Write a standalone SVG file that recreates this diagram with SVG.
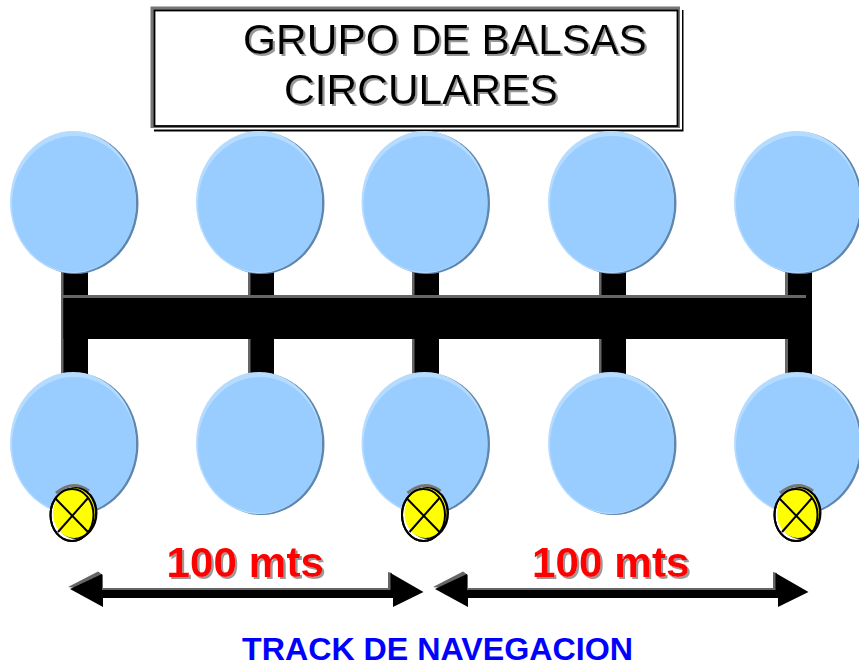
<svg xmlns="http://www.w3.org/2000/svg" width="859" height="666" viewBox="0 0 859 666">
<style>
text{font-family:"Liberation Sans",Arial,sans-serif}
.title{font-size:42.5px;fill:#000;filter:url(#ts)}
.dim{font-size:42.3px;font-weight:bold;fill:#ff0000;filter:url(#ts)}
.track{font-size:32.2px;font-weight:bold;fill:#0000ff}
.bar{fill:#000}
.bar-s{fill:#666}
.xl{fill:none;stroke:#000;stroke-width:2}
</style>
<defs>
<filter id="ts" x="-5%" y="-15%" width="110%" height="130%">
<feDropShadow dx="2" dy="2" stdDeviation="0.6" flood-color="#999"/>
</filter>
<g id="raft">
<ellipse cx="65.500" cy="72" rx="63" ry="71" fill="#5f86ad"/>
<ellipse cx="63" cy="71" rx="63" ry="71" fill="#b5dcff"/>
<ellipse cx="64" cy="73" rx="62" ry="68" fill="#99ccff"/>
</g>
<g id="buoy">
<ellipse cx="-1" cy="0" rx="21.500" ry="26" fill="#fff" stroke="#000" stroke-width="2"/>
<path d="M-17 -22Q0 -36 16 -24" fill="none" stroke="#777" stroke-width="3"/>
<ellipse cx="3" cy="-2" rx="21.500" ry="26" fill="#000"/>
<ellipse cx="1" cy="-2" rx="21" ry="25" fill="#ffff00"/>
<ellipse cx="-1" cy="0" rx="21.500" ry="26" fill="none" stroke="#000" stroke-width="2"/>
<path d="M-18 -17L15 17M15 -17L-15 17" class="xl"/>
</g>
</defs>
<g id="connectors">
<g id="frame">
<rect class="bar-s" x="61" y="270" width="3" height="105"/>
<rect class="bar-s" x="248" y="270" width="3" height="105"/>
<rect class="bar-s" x="412" y="270" width="3" height="105"/>
<rect class="bar-s" x="599" y="270" width="3" height="105"/>
<rect class="bar-s" x="785" y="270" width="3" height="105"/>
<rect class="bar" x="63.500" y="270" width="24.500" height="105"/>
<rect class="bar" x="250.500" y="270" width="23.500" height="105"/>
<rect class="bar" x="414.500" y="270" width="24.500" height="105"/>
<rect class="bar" x="601.500" y="270" width="24.500" height="105"/>
<rect class="bar" x="788" y="270" width="24" height="105"/>
<rect class="bar" x="63.500" y="297" width="748" height="42"/>
<rect class="bar-s" x="63" y="295" width="743" height="3"/>
</g>
<g id="arrow-left">
<path d="M68 587L98 571.500L103 575V588H388V572L392 573V591H100Z" fill="#666"/>
<path d="M70 589L102 574V590H390.500V573L423.500 592L393 607V598H103V607Z" class="bar"/>
</g>
<g id="arrow-right">
<path d="M433 587L463 571.500L468 575V588H773V572L777 573V591H465Z" fill="#666"/>
<path d="M435 589L467 574V590H775.500V573L808.500 592L778 607V598H468V607Z" class="bar"/>
</g>
</g>
<g id="title">
<rect x="154" y="10" width="529.500" height="121.500" fill="#000"/>
<rect x="154" y="10" width="528" height="119.500" fill="#fff"/>
<rect x="150.500" y="6.500" width="529.500" height="121.500" fill="#777"/>
<rect x="154.500" y="10.500" width="523" height="115.500" fill="#fff" stroke="#000" stroke-width="1.800"/>
<text class="title" x="243" y="54">GRUPO DE BALSAS</text>
<text class="title" x="284" y="104">CIRCULARES</text>
</g>
<g id="raft-t1"><use href="#raft" x="10" y="131"/></g>
<g id="raft-t2"><use href="#raft" x="196" y="131"/></g>
<g id="raft-t3"><use href="#raft" x="361.500" y="131"/></g>
<g id="raft-t4"><use href="#raft" x="548" y="131"/></g>
<g id="raft-t5"><use href="#raft" x="734" y="131"/></g>
<g id="raft-b1"><use href="#raft" x="10" y="372"/></g>
<g id="raft-b2"><use href="#raft" x="196" y="372"/></g>
<g id="raft-b3"><use href="#raft" x="361.500" y="372"/></g>
<g id="raft-b4"><use href="#raft" x="548" y="372"/></g>
<g id="raft-b5"><use href="#raft" x="734" y="372"/></g>
<g id="buoy-1"><use href="#buoy" x="73" y="515"/></g>
<g id="buoy-2"><use href="#buoy" x="424.500" y="515"/></g>
<g id="buoy-3"><use href="#buoy" x="797" y="515"/></g>
<g id="label-1"><text class="dim" x="166.500" y="577">100 mts</text></g>
<g id="label-2"><text class="dim" x="532" y="577">100 mts</text></g>
<g id="track"><text class="track" x="242" y="660">TRACK DE NAVEGACION</text></g>
</svg>
